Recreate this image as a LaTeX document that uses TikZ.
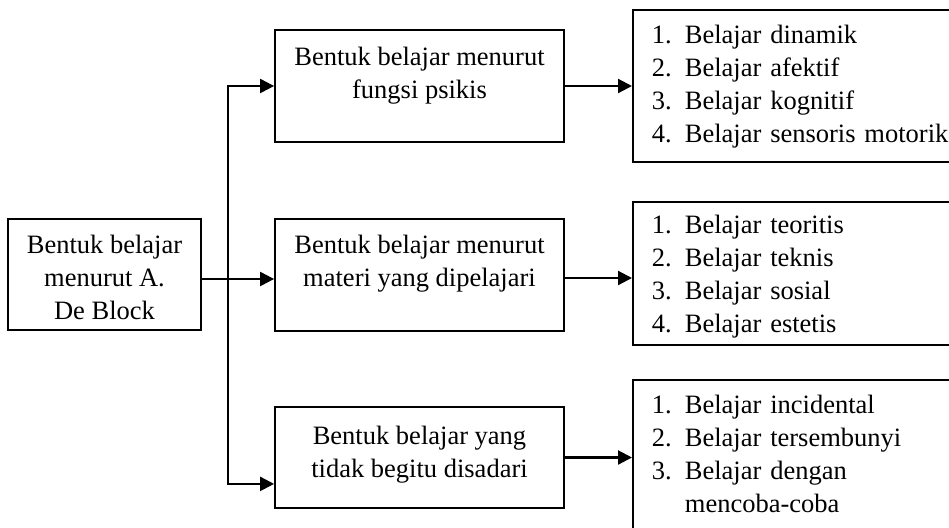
\documentclass[tikz,border=0pt]{standalone}
\usepackage{fontspec}
\setmainfont{Liberation Serif}
\usetikzlibrary{arrows.meta, positioning}

\newcommand{\boxtext}[2][0pt]{\raisebox{#1}[\height][\depth]{\begin{tabular}{@{}c@{}}#2\end{tabular}}}
\newcommand{\listtext}[2][0pt]{\noindent\raisebox{#1}[\height][\depth]{\begin{tabular}{@{}p{16.5pt}@{}l@{}}#2\end{tabular}}}

\begin{document}
\begin{tikzpicture}[
    x=0.5pt, y=-0.5pt,
    every node/.style={font=\fontsize{13.25}{16.5}\selectfont},
    formbox/.style={draw, line width=0.9pt, inner sep=0pt, minimum width=144.5pt},
    listbox/.style={draw, line width=0.9pt, anchor=north west, inner ysep=0pt,
      inner xsep=9.5pt, text width=160.5pt, align=left},
    link/.style={line width=1.1pt, -{Triangle[length=7pt, width=7pt]}}
  ]
  \useasboundingbox (0,0) rectangle (949,527);
  \clip (0,0) rectangle (949,527);

  % Source
  \node[draw, line width=0.9pt, inner sep=0pt, minimum width=96.5pt, minimum height=55.5pt]
    (block) at (104.5, 274.5) {\boxtext[-2.5pt]{Bentuk belajar\\menurut A.\\De Block}};

  % Forms
  \node[formbox, minimum height=56pt] (fungsi) at (419.5, 86)
    {\boxtext[5.5pt]{Bentuk belajar menurut\\fungsi psikis}};
  \node[formbox, minimum height=56pt] (materi) at (419.5, 275)
    {\boxtext[6pt]{Bentuk belajar menurut\\materi yang dipelajari}};
  \node[formbox, minimum height=50.5pt] (sadar) at (419.5, 457.5)
    {\boxtext[1.5pt]{Bentuk belajar yang\\tidak begitu disadari}};

  % Lists
  \node[listbox, minimum height=76pt] (fungsi-list) at (632, 9)
    {\listtext{1.&Belajar dinamik\\2.&Belajar afektif\\3.&Belajar kognitif\\4.&Belajar sensoris motorik}};
  \node[listbox, minimum height=71.5pt] (materi-list) at (632, 201)
    {\listtext[-1.7pt]{1.&Belajar teoritis\\2.&Belajar teknis\\3.&Belajar sosial\\4.&Belajar estetis}};
  \node[listbox, minimum height=80pt] (sadar-list) at (632, 379)
    {\listtext[2pt]{1.&Belajar incidental\\2.&Belajar tersembunyi\\3.&Belajar dengan\\&mencoba-coba}};

  % Arrows
  \coordinate (out) at ([yshift=-2.25pt]block.east);
  \coordinate (split) at ([xshift=13pt]out);
  \draw[link] (out) -- (out -| materi.west);
  \draw[link] (split) |- (fungsi.west);
  \draw[link] (split) |- ([yshift=12.5pt]sadar.south west);
  \draw[link] (fungsi.east) -- (fungsi.east -| fungsi-list.west);
  \draw[link] ([yshift=-1.5pt]materi.east) -- ([yshift=-1.5pt]materi.east -| materi-list.west);
  \draw[link] (sadar.east) -- (sadar.east -| sadar-list.west);
\end{tikzpicture}
\end{document}
